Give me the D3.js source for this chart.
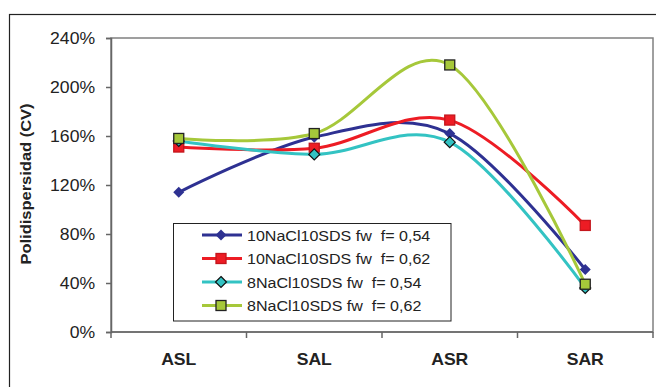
<!DOCTYPE html>
<html>
<head>
<meta charset="utf-8">
<script src="https://cdn.jsdelivr.net/npm/d3@7"></script>
<style>
  body { margin: 0; background: #fff; }
  svg { display: block; font-family: "Liberation Sans", Arial, sans-serif; }
</style>
</head>
<body>
<svg id="chart"></svg>
<script>
// categorias del eje X
const categories = ['ASL', 'SAL', 'ASR', 'SAR']
// valores de cada serie (%)
const serieA = [114, 159, 162, 51]
const serieB = [151, 150, 173, 87]
const serieC = [156, 145, 155, 36]
const serieD = [158, 162, 218, 39]
const seriesNames = [
  '10NaCl10SDS fw  f= 0,54',
  '10NaCl10SDS fw  f= 0,62',
  '8NaCl10SDS fw  f= 0,54',
  '8NaCl10SDS fw  f= 0,62'
]
const yTicks = [0, 40, 80, 120, 160, 200, 240]

const width = 656
const height = 387
const plot = { left: 111, top: 38, right: 653, bottom: 332 }
const stretch = 1.1 // el texto original aparece algo ensanchado

const series = [
  { name: seriesNames[0], values: serieA, color: '#2e3192', marker: 'diamond', stroke: 'none' },
  { name: seriesNames[1], values: serieB, color: '#ed1c24', marker: 'square', stroke: '#c4161c' },
  { name: seriesNames[2], values: serieC, color: '#33c3c3', marker: 'diamond', stroke: '#111' },
  { name: seriesNames[3], values: serieD, color: '#a6c83a', marker: 'square', stroke: '#222' }
]

let svg = d3.select('#chart').attr('width', width).attr('height', height)

// marco exterior
svg.append('rect')
  .attr('x', 9.5).attr('y', 14.5)
  .attr('width', 700).attr('height', 400)
  .attr('fill', 'none').attr('stroke', '#222').attr('stroke-width', 1.2)

let scaleX = d3.scaleBand()
  .domain(categories)
  .range([plot.left, plot.right])

let scaleY = d3.scaleLinear()
  .domain([0, 240])
  .range([plot.bottom, plot.top])

// borde del area de grafico
svg.append('rect')
  .attr('x', plot.left).attr('y', plot.top)
  .attr('width', plot.right - plot.left).attr('height', plot.bottom - plot.top)
  .attr('fill', 'none').attr('stroke', '#808080').attr('stroke-width', 1.5)

// eje Y
let axisY = d3.axisLeft(scaleY)
  .tickValues(yTicks)
  .tickFormat(d => d + '%')
  .tickSize(5)
  .tickPadding(9.5)

let gY = svg.append('g')
  .attr('transform', `translate(${plot.left}, 0)`)
  .call(axisY)
gY.select('.domain').attr('stroke', '#666').attr('stroke-width', 1.5)
gY.selectAll('.tick line').attr('stroke', '#666').attr('stroke-width', 1.5)
gY.selectAll('.tick text')
  .attr('fill', '#222')
  .attr('transform', `scale(${stretch},1)`)
  .style('font-size', '16px')

// eje X: marcas en los limites de cada categoria
let gX = svg.append('g')
  .attr('transform', `translate(0, ${plot.bottom})`)
gX.append('line')
  .attr('x1', plot.left).attr('x2', plot.right)
  .attr('stroke', '#666').attr('stroke-width', 1.5)
const bounds = categories.map(c => scaleX(c)).concat([plot.right])
gX.selectAll('.tickb')
  .data(bounds)
  .enter()
  .append('line')
  .attr('x1', d => d).attr('x2', d => d)
  .attr('y1', 0).attr('y2', 6)
  .attr('stroke', '#666').attr('stroke-width', 1.5)
gX.selectAll('.lbl')
  .data(categories)
  .enter()
  .append('text')
  .attr('transform', d => `translate(${scaleX(d) + scaleX.bandwidth() / 2}, 33) scale(${stretch},1)`)
  .attr('text-anchor', 'middle')
  .style('font-size', '16px')
  .style('font-weight', 'bold')
  .attr('fill', '#222')
  .text(d => d)

// titulo eje Y
svg.append('text')
  .attr('transform', `translate(31, 184) rotate(-90) scale(${stretch},1)`)
  .attr('text-anchor', 'middle')
  .style('font-size', '15px')
  .style('font-weight', 'bold')
  .attr('fill', '#222')
  .text('Polidispersidad (CV)')

const cx = c => scaleX(c) + scaleX.bandwidth() / 2

function drawMarker (g, x, y, s) {
  if (s.marker === 'square') {
    g.append('rect')
      .attr('x', x - 5).attr('y', y - 5)
      .attr('width', 10).attr('height', 10)
      .attr('fill', s.color)
      .attr('stroke', s.stroke).attr('stroke-width', 1.3)
  } else {
    const r = 5.5
    g.append('path')
      .attr('d', `M${x},${y - r}L${x + r},${y}L${x},${y + r}L${x - r},${y}Z`)
      .attr('fill', s.color)
      .attr('stroke', s.stroke).attr('stroke-width', 1.2)
  }
}

let line = d3.line()
  .x((d, i) => cx(categories[i]))
  .y(d => scaleY(d))
  .curve(d3.curveCardinal.tension(0))

series.forEach(s => {
  let g = svg.append('g')
  g.append('path')
    .datum(s.values)
    .attr('d', line)
    .attr('fill', 'none')
    .attr('stroke', s.color)
    .attr('stroke-width', 3)
  s.values.forEach((v, i) => drawMarker(g, cx(categories[i]), scaleY(v), s))
})

// leyenda
const lg = { x: 173.5, y: 223.5, w: 277.5, h: 97.5 }
let legend = svg.append('g')
legend.append('rect')
  .attr('x', lg.x).attr('y', lg.y)
  .attr('width', lg.w).attr('height', lg.h)
  .attr('fill', '#fff').attr('stroke', '#222').attr('stroke-width', 1)

series.forEach((s, i) => {
  const y = 235 + i * 23.5
  legend.append('line')
    .attr('x1', 202).attr('x2', 242)
    .attr('y1', y).attr('y2', y)
    .attr('stroke', s.color).attr('stroke-width', 3)
  drawMarker(legend, 221, y, s)
  legend.append('text')
    .attr('transform', `translate(247, ${y + 5.5}) scale(${stretch},1)`)
    .style('font-size', '14.6px')
    .style('white-space', 'pre')
    .attr('fill', '#222')
    .text(s.name)
})
</script>
</body>
</html>
